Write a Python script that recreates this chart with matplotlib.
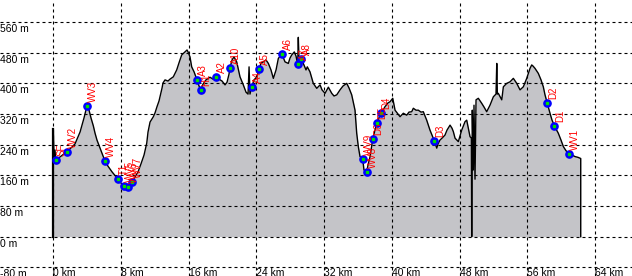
import numpy as np
import matplotlib
matplotlib.use('Agg')
import matplotlib.pyplot as plt

# elevation profile: distance (km) / elevation (m)
dist_km = [0.00, 0.08, 0.20, 0.28, 0.79, 1.62, 2.21, 2.56, 3.16, 3.63,
           4.02, 4.22, 4.45, 4.73, 4.93, 5.16, 5.52, 5.87, 6.11, 6.46,
           6.94, 7.65, 8.00, 8.39, 8.86, 9.30, 9.65, 10.01, 10.36, 10.72,
           11.04, 11.19, 11.43, 11.66, 11.82, 12.02, 12.25, 12.49, 12.61, 12.85,
           12.96, 13.20, 13.55, 13.79, 14.18, 14.58, 14.89, 15.17, 15.56, 15.80,
           15.92, 16.15, 16.35, 16.63, 16.98, 17.22, 17.42, 17.69, 18.04, 18.51,
           18.87, 19.23, 19.58, 19.94, 20.29, 20.53, 20.76, 20.88, 21.12, 21.35,
           21.67, 22.06, 22.45, 22.77, 23.01, 23.13, 23.24, 23.44, 23.72, 24.04,
           24.34, 24.54, 24.82, 25.13, 25.41, 25.72, 26.00, 26.32, 26.59, 26.99,
           27.14, 27.38, 27.77, 27.97, 28.17, 28.48, 28.68, 28.88, 28.95, 29.03,
           29.24, 29.54, 29.86, 30.01, 30.33, 30.72, 31.13, 31.52, 31.75, 32.11,
           32.50, 32.90, 33.17, 33.49, 33.88, 34.23, 34.67, 34.94, 35.26, 35.65,
           35.85, 36.04, 36.24, 36.56, 36.71, 37.03, 37.19, 37.43, 37.74, 38.01,
           38.21, 38.37, 38.69, 38.96, 39.19, 39.55, 39.79, 40.11, 40.38, 40.73,
           40.97, 41.36, 41.76, 42.03, 42.35, 42.54, 42.86, 43.13, 43.45, 43.72,
           44.12, 44.51, 44.75, 45.02, 45.31, 45.46, 45.69, 45.93, 46.28, 46.52,
           46.88, 47.11, 47.27, 47.47, 47.86, 48.26, 48.65, 48.85, 49.04, 49.24,
           49.40, 49.44, 49.51, 49.63, 49.71, 49.83, 49.95, 50.22, 50.62, 50.90,
           51.21, 51.60, 52.00, 52.31, 52.40, 52.47, 52.58, 52.99, 53.18, 53.58,
           53.97, 54.36, 54.76, 55.15, 55.54, 55.94, 56.33, 56.53, 56.69, 56.92,
           57.31, 57.63, 57.90, 58.10, 58.37, 58.69, 58.93, 59.20, 59.40, 59.67,
           59.99, 60.27, 60.59, 60.98, 61.29, 61.65, 62.00, 62.32]
elev_m = [281, 205, 226, 199, 208, 222, 234, 242, 273, 310,
          345, 330, 310, 289, 270, 252, 231, 210, 197, 184,
          169, 150, 140, 133, 130, 142, 156, 169, 190, 213,
          244, 273, 299, 307, 313, 323, 339, 354, 365, 388,
          401, 409, 406, 411, 417, 435, 456, 474, 482, 487,
          482, 469, 443, 430, 409, 393, 383, 398, 409, 416,
          411, 417, 411, 406, 396, 403, 424, 441, 461, 469,
          456, 417, 396, 377, 372, 443, 372, 391, 409, 417,
          437, 453, 456, 461, 452, 435, 413, 435, 465, 476,
          469, 456, 452, 466, 474, 482, 471, 450, 520, 461,
          464, 452, 435, 443, 430, 400, 387, 396, 383, 374,
          390, 374, 367, 370, 383, 393, 400, 388, 370, 330,
          270, 235, 209, 202, 174, 170, 187, 209, 254, 278,
          296, 304, 322, 330, 339, 349, 352, 361, 330, 320,
          313, 322, 317, 325, 326, 335, 330, 330, 325, 326,
          304, 278, 265, 250, 231, 242, 252, 257, 265, 278,
          291, 283, 274, 257, 248, 278, 300, 304, 283, 261,
          257, 0, 330, 174, 343, 150, 357, 361, 348, 338,
          326, 343, 365, 372, 452, 372, 374, 357, 391, 400,
          404, 413, 400, 383, 391, 413, 439, 448, 445, 439,
          426, 409, 391, 370, 348, 322, 304, 290, 281, 270,
          252, 235, 224, 216, 213, 209, 207, 204]

# waypoints
wp_names = ['SF', 'WV2', 'WV3', 'WV4', 'T1', 'WV5', 'WV6', 'WV7',
            'A3', 'H1', 'A2', 'A10', 'A4', 'A5', 'A6', 'A7', 'A8',
            'WV9', 'WV8', 'D6', 'D5', 'D4', 'D3', 'D2', 'D1', 'WV1']
wp_km = [0.28, 1.62, 3.98, 6.11, 7.65, 8.39, 8.86, 9.30,
         16.98, 17.42, 19.23, 20.88, 23.44, 24.34, 26.99, 28.88, 29.24,
         36.56, 37.03, 37.74, 38.21, 38.69, 45.02, 58.37, 59.20, 60.98]
wp_elev = [199, 222, 341, 197, 150, 133, 130, 142,
           409, 383, 417, 441, 391, 437, 476, 450, 464,
           202, 170, 254, 296, 322, 250, 348, 290, 216]

x_ticks = [0, 8, 16, 24, 32, 40, 48, 56, 64]
y_ticks = [-80, 0, 80, 160, 240, 320, 400, 480, 560]

plt.rcParams['font.family'] = ['Liberation Sans', 'DejaVu Sans']

fig = plt.figure(figsize=(6.32, 2.76), dpi=100)
ax = fig.add_axes([0, 0, 1, 1])
ax.set_xlim(-6.30, 68.38)
ax.set_ylim(-102.5, 617.4)
ax.axis('off')

d = np.asarray(dist_km)
e = np.asarray(elev_m)
ax.fill_between(d, 0, e, color='#c4c4c8', lw=0, zorder=1)
ax.plot(np.r_[d[0], d, d[-1]], np.r_[0, e, 0], color='black', lw=1.0, zorder=3)
# start edge is drawn heavier in the original
ax.plot([d[0], d[0]], [0, e[0]], color='black', lw=1.6, zorder=3)

# dashed grid
for xt in x_ticks:
    ax.axvline(xt, color='black', lw=0.8, ls=(0, (2.7, 2.7)), zorder=2)
for yt in y_ticks:
    ax.axhline(yt, color='black', lw=0.8, ls=(0, (2.7, 2.7)), zorder=2)

# tick labels drawn inside the plot area
for yt in y_ticks:
    ax.annotate(f'{yt} m', xy=(0, yt), xycoords=ax.get_yaxis_transform(),
                xytext=(0, -2), textcoords='offset pixels',
                ha='left', va='top', fontsize=7.5, color='black', zorder=4)
for xt in x_ticks:
    ax.annotate(f'{xt} km', xy=(xt, -80), xycoords='data',
                xytext=(0, -1), textcoords='offset pixels',
                ha='left', va='top', fontsize=7.5, color='black', zorder=4)

# waypoints
ax.plot(wp_km, wp_elev, 'o', ms=5.2, mfc='#0000ff', mec='#0000ff', zorder=5)
ax.plot(wp_km, wp_elev, 's', ms=1.8, mfc='#00e000', mec='#00e000', zorder=6)
for name, xk, ye in zip(wp_names, wp_km, wp_elev):
    ax.annotate(name, xy=(xk, ye), xytext=(6, 4), textcoords='offset pixels',
                rotation=90, ha='center', va='bottom', fontsize=7,
                color='red', zorder=7)

fig.savefig('out.png', dpi=100)
